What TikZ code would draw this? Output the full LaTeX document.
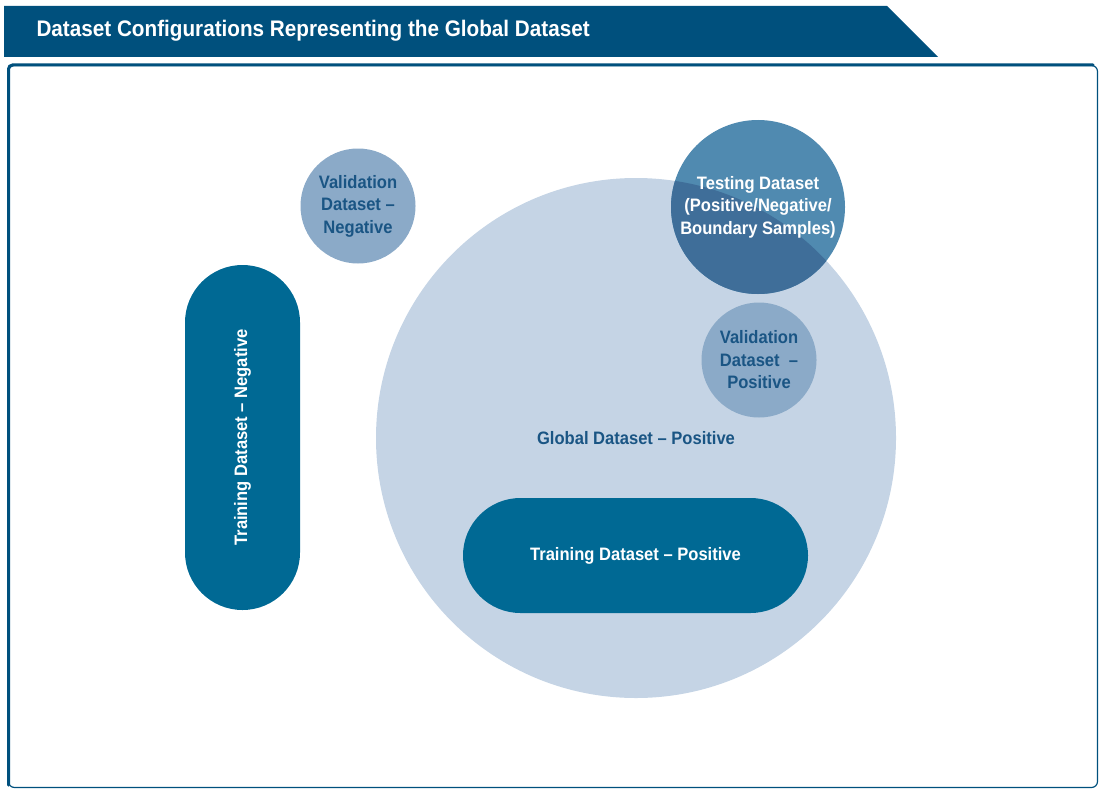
\documentclass[tikz,border=0pt]{standalone}
\usepackage{fontspec}
\setmainfont[FakeStretch=0.92]{Liberation Sans}
\usepackage{tikz}
\usetikzlibrary{shapes.misc}
\definecolor{navy}{HTML}{00507D}
\definecolor{globalfill}{HTML}{C5D4E5}
\definecolor{testfill}{HTML}{508AB0}
\definecolor{overlapfill}{HTML}{3F6E99}
\definecolor{valfill}{HTML}{8BAAC8}
\definecolor{trainfill}{HTML}{006994}
\definecolor{inktext}{HTML}{1A5584}
\tikzset{
  font=\bfseries\fontsize{18}{22.5}\selectfont,
  ring/.style={circle, inner sep=0pt, align=center},
  valring/.style={ring, fill=valfill, text=inktext, minimum size=115pt},
  pill/.style={rounded rectangle, inner sep=0pt, fill=trainfill, text=white,
    minimum width=345pt, minimum height=115pt},
  frameline/.style={draw=navy, line width=1.2pt, rounded corners=6pt},
}
\begin{document}
\begin{tikzpicture}[x=1pt,y=-1pt]
\useasboundingbox (0,0) rectangle (1099,789);
% title banner
\fill[navy] (4,6) -- (887,6) -- (938,57) -- (4,57) -- cycle;
\node[anchor=west, text=white, font=\bfseries\fontsize{22.5}{26}\selectfont] (title) at (33,31) {Dataset Configurations Representing the Global Dataset};
% frame, heavy on left and top
\draw[frameline] (8.5,65.5) rectangle (1097.5,787.5);
\draw[navy, line width=3pt, line cap=round] (8.5,785) -- (8.5,69) arc (180:270:4) -- (1093,65);
% global set
\node[ring, fill=globalfill, minimum size=520pt] (global) at (636,438) {};
\node[text=inktext] (globallab) at (636,438) {Global Dataset -- Positive};
% testing set, darker where it lies over the global set
\node[ring, fill=testfill, text=white, minimum size=174pt,
  path picture={\fill[overlapfill] (global.center) circle (260pt);}] (test) at (758,207)
  {Testing Dataset\\(Positive/Negative/\\Boundary Samples)};
% validation sets
\node[valring] (valpos) at (759,360) {Validation\\Dataset~~--\\Positive};
\node[valring] (valneg) at (358,206) {Validation\\Dataset --\\Negative};
% training sets
\node[pill] (trainpos) at (635.5,555.5) {Training Dataset -- Positive};
\node[pill, rotate=90] (trainneg) at (242.5,437.5) {Training Dataset -- Negative};
\end{tikzpicture}
\end{document}
